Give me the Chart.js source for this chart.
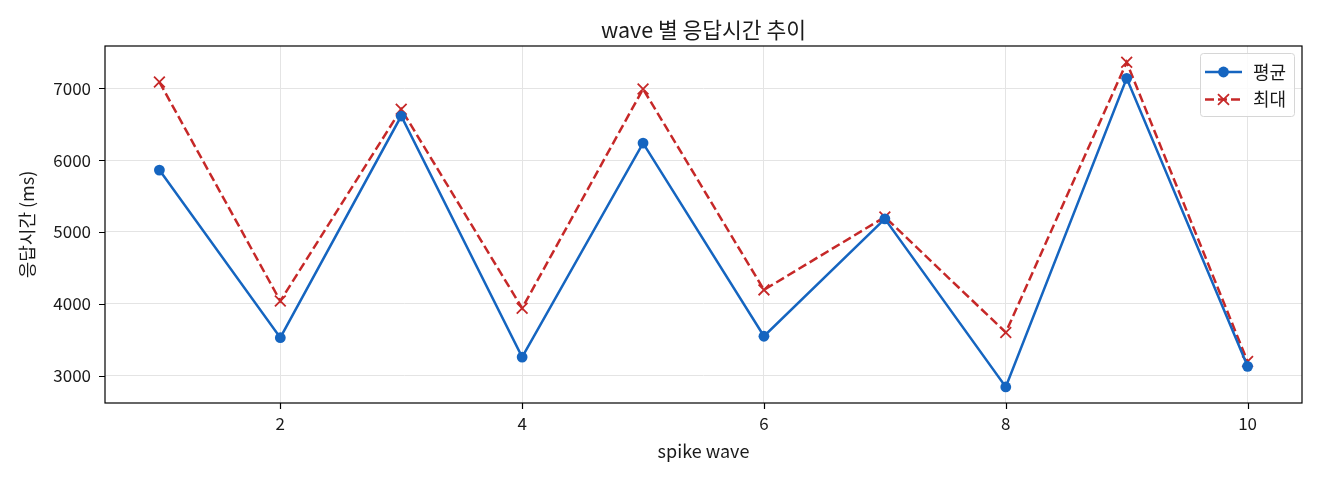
<!DOCTYPE html>
<html>
<head>
<meta charset="utf-8">
<script src="https://cdn.jsdelivr.net/npm/chart.js@4.4.1/dist/chart.umd.min.js"></script>
<style>
  html, body { margin: 0; padding: 0; background: #ffffff; }
  #wrap { width: 1320px; height: 480px; }
</style>
</head>
<body>
<div id="wrap"><canvas id="c" width="1320" height="480"></canvas></div>
<script>
const waves = [1, 2, 3, 4, 5, 6, 7, 8, 9, 10];
const avgMs = [5861, 3530, 6612, 3260, 6236, 3550, 5183, 2845, 7136, 3132];
const maxMs = [7085, 4040, 6708, 3940, 6988, 4195, 5208, 3603, 7360, 3198];
const xTicks = [2, 4, 6, 8, 10];
const yTicks = [3000, 4000, 5000, 6000, 7000];
const seriesNames = ['평균', '최대'];
const titleText = 'wave 별 응답시간 추이';
const xTitle = 'spike wave';
const yTitle = '응답시간 (ms)';

const FONT = "'Noto Sans CJK KR', 'Noto Sans', sans-serif";
const BLUE = '#1565c0';
const RED = '#c62828';
const TEXT = '#1a1a1a';

const frame = {
  id: 'frame',
  afterDraw(chart) {
    const { ctx, chartArea: a, scales } = chart;
    ctx.save();
    // axes frame
    ctx.strokeStyle = '#000';
    ctx.lineWidth = 1.2;
    ctx.strokeRect(a.left, a.top, a.right - a.left, a.bottom - a.top);
    // tick marks
    ctx.beginPath();
    xTicks.forEach(v => {
      const px = Math.round(scales.x.getPixelForValue(v)) + 0.5;
      ctx.moveTo(px, a.bottom);
      ctx.lineTo(px, a.bottom + 6);
    });
    yTicks.forEach(v => {
      const py = Math.round(scales.y.getPixelForValue(v)) + 0.5;
      ctx.moveTo(a.left, py);
      ctx.lineTo(a.left - 6, py);
    });
    ctx.stroke();
    // title centred over the plot area
    ctx.fillStyle = TEXT;
    ctx.font = '21.5px ' + FONT;
    ctx.textAlign = 'center';
    ctx.textBaseline = 'middle';
    ctx.fillText(titleText, (a.left + a.right) / 2, 29.5);
    // legend
    const ds = chart.data.datasets;
    const bx = 1200, by = 53, bw = 94, bh = 63;
    ctx.fillStyle = 'rgba(255,255,255,0.85)';
    ctx.strokeStyle = '#d6d6d6';
    ctx.lineWidth = 1;
    ctx.beginPath();
    if (ctx.roundRect) ctx.roundRect(bx + 0.5, by + 0.5, bw, bh, 3); else ctx.rect(bx + 0.5, by + 0.5, bw, bh);
    ctx.fill();
    ctx.stroke();
    const rows = [72, 99.5];
    ds.forEach((d, i) => {
      const y = rows[i];
      ctx.strokeStyle = d.borderColor;
      ctx.lineWidth = d.borderWidth;
      ctx.setLineDash(d.borderDash || []);
      ctx.beginPath();
      ctx.moveTo(1205, y);
      ctx.lineTo(1242, y);
      ctx.stroke();
      ctx.setLineDash([]);
      if (d.pointStyle === 'circle') {
        ctx.fillStyle = d.pointBackgroundColor;
        ctx.beginPath();
        ctx.arc(1223.5, y, 5.4, 0, Math.PI * 2);
        ctx.fill();
      } else {
        ctx.strokeStyle = d.pointBorderColor;
        ctx.lineWidth = 1.8;
        ctx.beginPath();
        ctx.moveTo(1218, y - 5.4); ctx.lineTo(1229, y + 5.4);
        ctx.moveTo(1229, y - 5.4); ctx.lineTo(1218, y + 5.4);
        ctx.stroke();
      }
      ctx.fillStyle = TEXT;
      ctx.font = '18px ' + FONT;
      ctx.textBaseline = 'middle';
      ctx.textAlign = 'left';
      ctx.fillText(d.label, 1253, y);
    });
    ctx.restore();
  }
};

new Chart(document.getElementById('c'), {
  type: 'line',
  data: {
    datasets: [
      {
        label: seriesNames[0],
        data: waves.map((w, i) => ({ x: w, y: avgMs[i] })),
        borderColor: BLUE,
        backgroundColor: BLUE,
        borderWidth: 2.5,
        pointStyle: 'circle',
        pointRadius: 5.4,
        pointBackgroundColor: BLUE,
        pointBorderColor: BLUE,
        pointBorderWidth: 0,
        tension: 0
      },
      {
        label: seriesNames[1],
        data: waves.map((w, i) => ({ x: w, y: maxMs[i] })),
        borderColor: RED,
        backgroundColor: RED,
        borderWidth: 2.5,
        borderDash: [9, 4],
        pointStyle: 'crossRot',
        pointRadius: 7.6,
        pointBorderColor: RED,
        pointBackgroundColor: RED,
        pointBorderWidth: 1.8,
        tension: 0
      }
    ]
  },
  options: {
    responsive: false,
    animation: false,
    devicePixelRatio: 1,
    layout: { padding: { left: 0, right: 18, top: 46, bottom: 0 } },
    plugins: {
      legend: { display: false },
      tooltip: { enabled: false },
      title: { display: false }
    },
    scales: {
      x: {
        type: 'linear',
        min: 0.55,
        max: 10.45,
        afterBuildTicks(s) { s.ticks = xTicks.map(v => ({ value: v })); },
        afterFit(s) { s.height = 77; },
        ticks: {
          color: TEXT,
          font: { family: FONT, size: 17 },
          padding: 4,
          maxRotation: 0,
          autoSkip: false,
          callback: v => String(v)
        },
        grid: {
          color: '#e4e4e4',
          lineWidth: 1,
          tickColor: 'rgba(0,0,0,0)',
          tickLength: 6,
          drawTicks: true
        },
        border: { display: false },
        title: {
          display: true,
          text: xTitle,
          color: TEXT,
          font: { family: FONT, size: 18, lineHeight: 1.2 },
          padding: { top: 0, bottom: 18 }
        }
      },
      y: {
        type: 'linear',
        min: 2622,
        max: 7586,
        afterBuildTicks(s) { s.ticks = yTicks.map(v => ({ value: v })); },
        afterFit(s) { s.width = 105; },
        ticks: {
          color: TEXT,
          font: { family: FONT, size: 17 },
          padding: 8,
          autoSkip: false,
          callback: v => String(v)
        },
        grid: {
          color: '#e4e4e4',
          lineWidth: 1,
          tickColor: 'rgba(0,0,0,0)',
          tickLength: 6,
          drawTicks: true
        },
        border: { display: false },
        title: {
          display: true,
          text: yTitle,
          color: TEXT,
          font: { family: FONT, size: 18, lineHeight: 1.2 },
          padding: { top: 16, bottom: 0 }
        }
      }
    }
  },
  plugins: [frame]
});
</script>
</body>
</html>
